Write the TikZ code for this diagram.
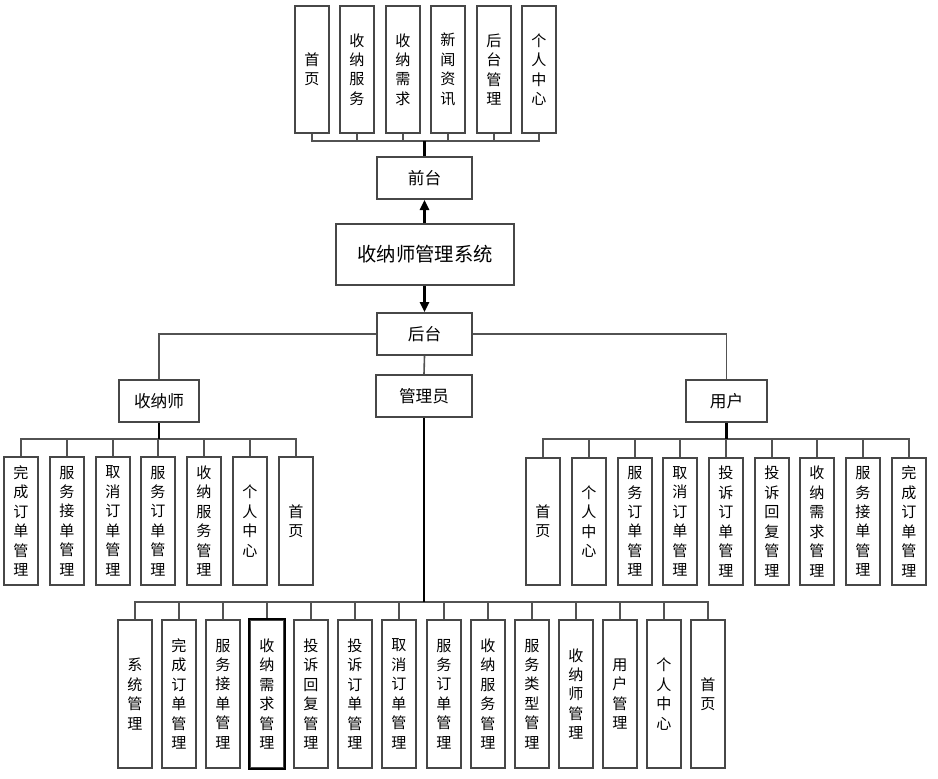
\documentclass[tikz,border=0pt]{standalone}
\usepackage{fontspec}
\newfontfamily\cjk{Noto Sans CJK SC}
\usetikzlibrary{arrows.meta}
\begin{document}
\begin{tikzpicture}[x=0.75pt,y=-0.75pt,
  boxline/.style={draw=black!72,line width=1.5pt,fill=white},
  vbox/.style={boxline,inner sep=0pt,minimum width=25.5pt,align=center,
    font=\cjk\fontsize{11.3pt}{14.6pt}\selectfont},
  topbox/.style={vbox,minimum height=95.25pt},
  midbox/.style={vbox,minimum height=96pt},
  rbox/.style={vbox,minimum height=95.25pt},
  botbox/.style={vbox,minimum height=111pt},
  hbox/.style={boxline,inner sep=0pt,minimum width=71.25pt,minimum height=31.5pt,
    font=\cjk\fontsize{12.5pt}{15pt}\selectfont},
  link/.style={draw=black!68,line width=1.2pt},
  trunk/.style={draw=black,line width=1.6pt},
  arr/.style={trunk,-{Triangle[width=7pt,length=7.5pt]}}
]
\useasboundingbox (0,0) rectangle (938,778);

% main system and front/back
\node[boxline,minimum width=133.5pt,minimum height=45.75pt,inner sep=0pt,
  font=\cjk\fontsize{14.5pt}{17pt}\selectfont] (sys) at (425,254.5) {收纳师管理系统};
\node[hbox] (qt) at (424.5,178) {前台};
\node[hbox] (ht) at (424.5,334) {后台};

\draw[arr] (qt.south |- sys.north) -- (qt.south);
\draw[arr] (ht.north |- sys.south) -- (ht.north);

% front-end children
\coordinate (fbus) at (424.5,141);
\foreach \i/\x/\t in {1/312/{首\\页},2/357/{收\\纳\\服\\务},3/403/{收\\纳\\需\\求},
  4/448/{新\\闻\\资\\讯},5/494/{后\\台\\管\\理},6/539/{个\\人\\中\\心}}{
  \node[topbox] (f\i) at (\x,69.5) {\t};
  \draw[link] (fbus) -| (f\i.south);
}
\draw[trunk] (qt.north) -- (fbus);

% roles
\node[hbox,minimum width=60pt] (sns) at (159,401) {收纳师};
\node[hbox,minimum width=72pt] (gly) at (424,396) {管理员};
\node[hbox,minimum width=60.75pt] (yh) at (726.5,401) {用户};
\draw[link] (ht.west) -| (sns.north);
\draw[link] (ht.east) -| (yh.north);
\draw[link] (ht.south) -- (gly.north);

% 收纳师 children
\coordinate (lbus) at (159,439);
\foreach \i/\t [evaluate=\i as \x using round(21+(\i-1)*45.75)] in
  {1/{完\\成\\订\\单\\管\\理},2/{服\\务\\接\\单\\管\\理},3/{取\\消\\订\\单\\管\\理},
   4/{服\\务\\订\\单\\管\\理},5/{收\\纳\\服\\务\\管\\理},6/{个\\人\\中\\心},7/{首\\页}}{
  \node[midbox] (l\i) at (\x,521) {\t};
  \draw[link] (lbus) -| (l\i.north);
}
\draw[trunk] (sns.south) -- (lbus);

% 用户 children
\coordinate (rbus) at (726.5,439);
\foreach \i/\t [evaluate=\i as \x using round(543.3+(\i-1)*45.7)] in
  {1/{首\\页},2/{个\\人\\中\\心},3/{服\\务\\订\\单\\管\\理},4/{取\\消\\订\\单\\管\\理},
   5/{投\\诉\\订\\单\\管\\理},6/{投\\诉\\回\\复\\管\\理},7/{收\\纳\\需\\求\\管\\理},
   8/{服\\务\\接\\单\\管\\理},9/{完\\成\\订\\单\\管\\理}}{
  \node[rbox] (r\i) at (\x,521.5) {\t};
  \draw[link] (rbus) -| (r\i.north);
}
\draw[trunk] (yh.south) -- (rbus);

% 管理员 children
\coordinate (bbus) at (424,602);
\foreach \i/\t [evaluate=\i as \x using round(134.5+(\i-1)*44.15)] in
  {1/{系\\统\\管\\理},2/{完\\成\\订\\单\\管\\理},3/{服\\务\\接\\单\\管\\理},
   4/{收\\纳\\需\\求\\管\\理},5/{投\\诉\\回\\复\\管\\理},6/{投\\诉\\订\\单\\管\\理},
   7/{取\\消\\订\\单\\管\\理},8/{服\\务\\订\\单\\管\\理},9/{收\\纳\\服\\务\\管\\理},
   10/{服\\务\\类\\型\\管\\理},11/{收\\纳\\师\\管\\理},12/{用\\户\\管\\理},
   13/{个\\人\\中\\心},14/{首\\页}}{
  \node[botbox] (b\i) at (\x,694) {\t};
  \draw[link] (bbus) -| (b\i.north);
}
\draw[draw=black,line width=1.5pt] (b4.south west) rectangle (b4.north east);
\draw[trunk] (gly.south) -- (bbus);
\end{tikzpicture}
\end{document}
